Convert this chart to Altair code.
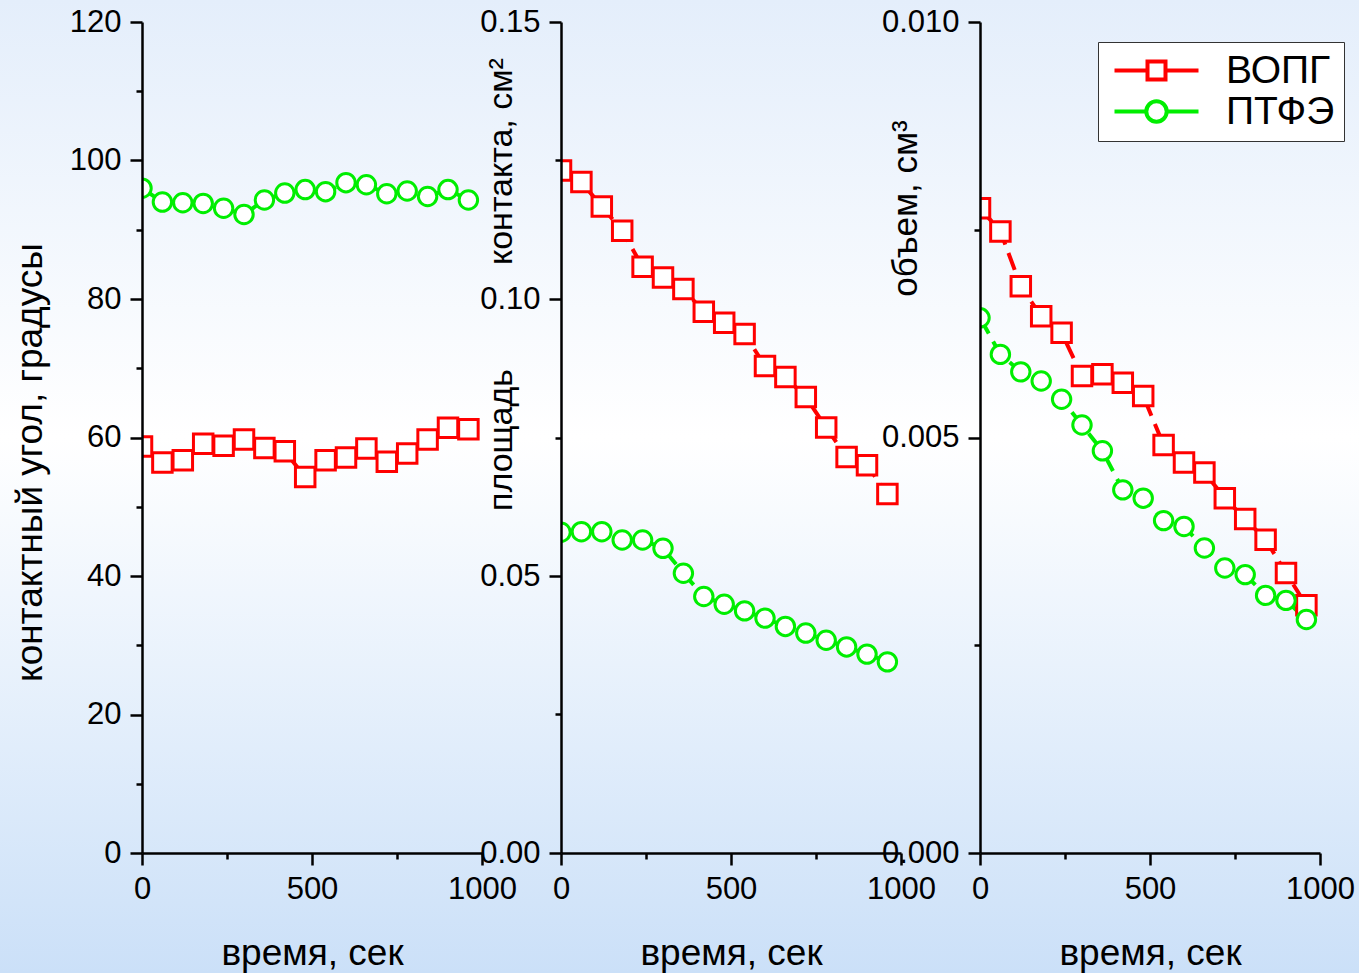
import altair as alt
import pandas as pd

# ---------------- data ----------------
series_names = ["ВОПГ", "ПТФЭ"]
series_colors = ["#ff0000", "#00ee00"]

time_s = [0, 60, 120, 180, 240, 300, 360, 420, 480, 540, 600, 660, 720, 780, 840, 900, 960]

angle_vopg = [58.7, 56.4, 56.7, 59.1, 58.8, 59.7, 58.5, 58.0, 54.3, 56.7, 57.1, 58.4, 56.5, 57.7, 59.7, 61.4, 61.2]
angle_ptfe = [96.0, 94.0, 93.9, 93.8, 93.1, 92.2, 94.3, 95.3, 95.8, 95.5, 96.8, 96.5, 95.2, 95.6, 94.8, 95.8, 94.3]

area_vopg = [0.1232, 0.1211, 0.1167, 0.1123, 0.1058, 0.1039, 0.1018, 0.0977, 0.0957, 0.0937,
             0.0879, 0.0859, 0.0823, 0.0768, 0.0715, 0.0700, 0.0648]
area_ptfe = [0.0579, 0.0580, 0.0580, 0.0565, 0.0565, 0.0550, 0.0505, 0.0463, 0.0449, 0.0437,
             0.0424, 0.0409, 0.0397, 0.0384, 0.0372, 0.0359, 0.0345]

vol_vopg = [0.00776, 0.00748, 0.00682, 0.00646, 0.00626, 0.00574, 0.00576, 0.00566, 0.00550, 0.00491,
            0.00470, 0.00458, 0.00427, 0.00402, 0.00377, 0.00337, 0.00298]
vol_ptfe = [0.00644, 0.00600, 0.00579, 0.00568, 0.00546, 0.00515, 0.00484, 0.00437, 0.00427, 0.00400,
            0.00393, 0.00367, 0.00343, 0.00335, 0.00310, 0.00304, 0.00281]

x_ticks = [0, 250, 500, 750, 1000]
y1_ticks = [0, 10, 20, 30, 40, 50, 60, 70, 80, 90, 100, 110, 120]
y2_ticks = [0, 0.025, 0.05, 0.075, 0.1, 0.125, 0.15]
y3_ticks = [0, 0.0025, 0.005, 0.0075, 0.01]

FONT = "Liberation Sans"
NB = "\u00a0"

# legend symbols: line + marker (custom paths, scaled by sqrt(size)/2)
sym_square = "M-3.5,0H-0.75M0.75,0H3.5M-0.75,-0.75H0.75V0.75H-0.75Z"
sym_circle = "M-3.5,0H-0.85M0.85,0H3.5M-0.85,0A0.85,0.85,0,1,0,0.85,0A0.85,0.85,0,1,0,-0.85,0Z"


def cond_size(test):
    return {"condition": {"test": test, "value": 12}, "value": 6}


x_test = "datum.value % 500 === 0"
x_axis = alt.Axis(values=x_ticks, format="d", title="время, сек",
                  labelExpr=f"({x_test}) ? datum.label : ''",
                  tickSize=cond_size(x_test), zindex=1,
                  titleFontSize=37, titleY=100, titleBaseline="middle")


def y_axis(values, test, fmt, title, tx, ty, fs):
    return alt.Axis(values=values, format=fmt, title=title,
                    labelExpr=f"({test}) ? datum.label : ''",
                    tickSize=cond_size(test), zindex=1,
                    titleFontSize=fs,
                    titleAngle=270, titleX=tx, titleY=ty,
                    titleAlign="center", titleBaseline="middle")


def panel(v_a, v_b, ydomain, yaxis, with_bg=False, with_legend=False):
    layers = []
    if with_bg:
        grad = alt.LinearGradient(
            gradient="linear",
            stops=[alt.GradientStop(offset=0, color="#e4eefb"),
                   alt.GradientStop(offset=0.45, color="#ffffff"),
                   alt.GradientStop(offset=1, color="#cbe0f8")],
            x1=0, x2=0, y1=0, y2=1)
        layers.append(
            alt.Chart(pd.DataFrame({"bg": [0]})).mark_rect(fill=grad, clip=False).encode(
                x=alt.value(-142), x2=alt.value(1217), y=alt.value(-22), y2=alt.value(951)))
    xs = alt.Scale(domain=[0, 1000], nice=False)
    ys = alt.Scale(domain=ydomain, nice=False, zero=False)
    specs = [(v_a, series_colors[0], "square", 380), (v_b, series_colors[1], "circle", 340)]
    for vals, color, shape, size in specs:
        df = pd.DataFrame({"t": time_s, "v": vals})
        layers.append(alt.Chart(df).mark_line(color=color, strokeWidth=4,
                                              strokeDash=[18, 9], clip=True).encode(
            x=alt.X("t:Q", scale=xs, axis=x_axis), y=alt.Y("v:Q", scale=ys, axis=yaxis)))
    for vals, color, shape, size in specs:
        df = pd.DataFrame({"t": time_s, "v": vals})
        layers.append(alt.Chart(df).mark_point(shape=shape, size=size, fill="white",
                                               stroke=color, strokeWidth=3, opacity=1,
                                               fillOpacity=1, clip=True).encode(
            x=alt.X("t:Q", scale=xs, axis=x_axis), y=alt.Y("v:Q", scale=ys, axis=yaxis)))
    if with_legend:
        ldf = pd.DataFrame({"series": series_names})
        layers.append(
            alt.Chart(ldf).transform_filter("false").mark_point(filled=False, opacity=1, strokeWidth=4).encode(
                color=alt.Color("series:N",
                                scale=alt.Scale(domain=series_names, range=series_colors),
                                legend=alt.Legend(orient="none", legendX=956, legendY=20,
                                                  title=None, labelFont=FONT, labelFontSize=39,
                                                  labelColor="black", labelOffset=50,
                                                  symbolSize=576, symbolStrokeWidth=4,
                                                  symbolOffset=30,
                                                  padding=9, rowPadding=1,
                                                  fillColor="white", strokeColor="#333333")),
                shape=alt.Shape("series:N",
                                scale=alt.Scale(domain=series_names, range=[sym_square, sym_circle]))))
    return alt.layer(*layers).properties(width=340, height=831)


p1 = panel(angle_vopg, angle_ptfe, [0, 120],
           y_axis(y1_ticks, "datum.value % 20 === 0", "d", "контактный угол, градусы", -112, 440, 37),
           with_bg=True)
p2 = panel(area_vopg, area_ptfe, [0, 0.15],
           y_axis(y2_ticks, "abs(datum.value*20 - round(datum.value*20)) < 0.000001", ".2f",
                  "площадь" + NB * 11 + "контакта, см²", -60, 262, 34))
p3 = panel(vol_vopg, vol_ptfe, [0, 0.01],
           y_axis(y3_ticks, "abs(datum.value*200 - round(datum.value*200)) < 0.000001", ".3f",
                  "объем, см³", -75, 186, 35),
           with_legend=True)

chart = alt.hconcat(p1, p2, p3, spacing=79, bounds="flush", padding=0,
                    background="white").configure_view(
    stroke=None
).configure_axis(
    grid=False, domainColor="black", domainWidth=2.5,
    tickColor="black", tickWidth=2.5,
    labelFont=FONT, labelFontSize=31, labelColor="black", labelPadding=9,
    labelFlush=False, labelOverlap=False,
    titleFont=FONT, titleFontWeight="normal", titleColor="black"
)

chart.save("out.html", embed_options={"renderer": "svg", "actions": False})
